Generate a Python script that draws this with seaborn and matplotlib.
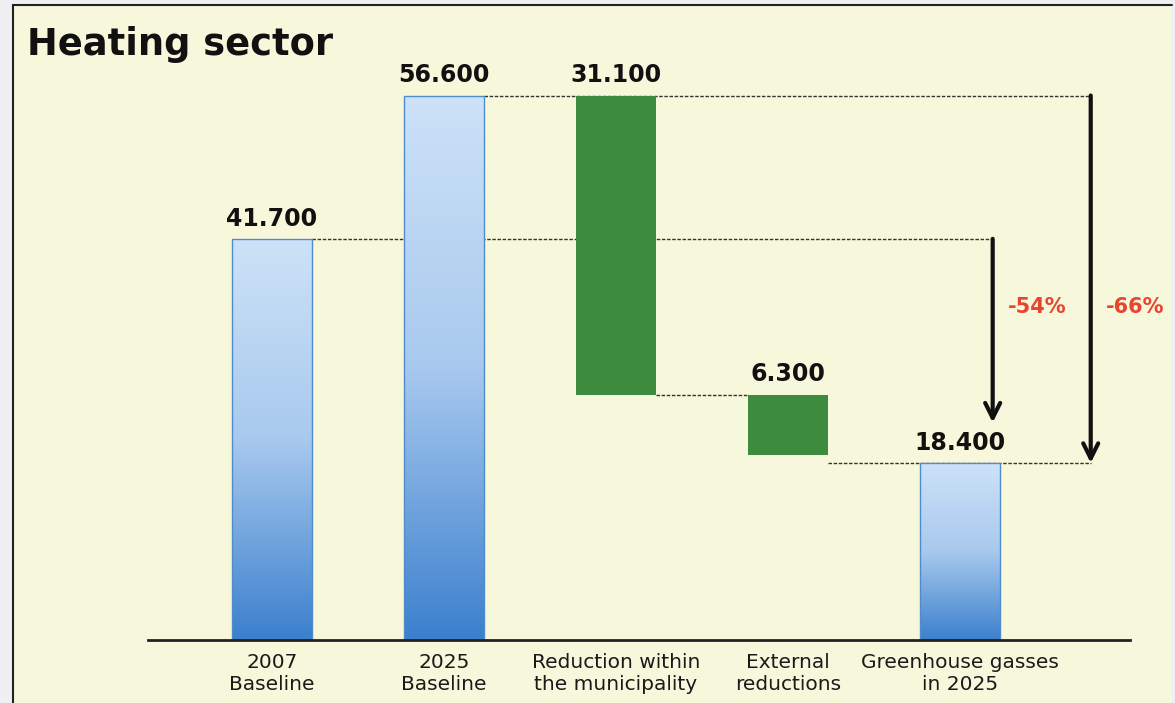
import matplotlib
matplotlib.use("Agg")
import matplotlib.pyplot as plt
import numpy as np
import pandas as pd
import seaborn as sns
from matplotlib.patches import Rectangle
from matplotlib.colors import LinearSegmentedColormap

# Heating-sector emissions, 2007 baseline to 2025
categories = ["2007\nBaseline", "2025\nBaseline", "Reduction within\nthe municipality",
              "External\nreductions", "Greenhouse gasses\nin 2025"]
values = [41.7, 56.6, 31.1, 6.3, 18.4]
kinds = ["total", "total", "reduction", "reduction", "total"]
pct_labels = ["-54%", "-66%"]

# Bar spans: totals start at zero, reductions hang from the running level
bottoms, spans = [], []
level = 0.0
for v, k in zip(values, kinds):
    if k == "total":
        bottoms.append(0.0)
        spans.append(v)
        level = v
    else:
        level -= v
        bottoms.append(level)
        spans.append(v)
tops = [b + s for b, s in zip(bottoms, spans)]

df = pd.DataFrame({"category": categories, "span": spans})

sns.set_theme(style="white")
plt.rcParams["font.family"] = ["DejaVu Sans"]

BG = "#f7f7dc"
GREEN = "#3d8c3d"
W = 0.46

fig = plt.figure(figsize=(11.75, 7.03), dpi=100)
fig.patch.set_facecolor("#eef0f4")
# framed panel
fig.patches.append(Rectangle((13 / 1175, 0), 1159 / 1175, 698 / 703,
                             transform=fig.transFigure, facecolor=BG,
                             edgecolor="none", zorder=-10))
fig.lines.append(plt.Line2D([13 / 1175, 1172 / 1175], [698 / 703, 698 / 703],
                            transform=fig.transFigure, color="#222222", lw=1.5, zorder=-9))
fig.lines.append(plt.Line2D([13 / 1175, 13 / 1175], [0, 698 / 703],
                            transform=fig.transFigure, color="#222222", lw=1.5, zorder=-9))

ax = fig.add_axes([0, 63 / 703, 1, 640 / 703])
ax.set_facecolor("none")

palette = {c: ("#ffffff00" if k == "total" else GREEN) for c, k in zip(categories, kinds)}
sns.barplot(data=df, x="category", y="span", hue="category", palette=palette,
            width=W, legend=False, ax=ax, zorder=3, saturation=1)

blue_cmap = LinearSegmentedColormap.from_list("bluegrad", ["#cde2f8", "#a8c9ee", "#3b80cd"])
grad = np.linspace(0, 1, 256).reshape(-1, 1)
for patch, b, k in zip(ax.patches, bottoms, kinds):
    patch.set_y(b)
    if k == "total":
        x0 = patch.get_x()
        w = patch.get_width()
        h = patch.get_height()
        im = ax.imshow(grad, cmap=blue_cmap, aspect="auto",
                       extent=[x0, x0 + w, b, b + h], origin="upper", zorder=3)
        im.set_clip_path(patch)
        patch.set_edgecolor("#4f8ccc")
        patch.set_linewidth(1.0)
        patch.set_zorder(4)
    else:
        patch.set_edgecolor("none")

ax.set_xlim(-272 / 172, (1175 - 272) / 172)
ax.set_ylim(0, 640 / 9.62)

# value labels
for i, (v, t) in enumerate(zip(values, tops)):
    ax.annotate(f"{v:.3f}", (i, t), xytext=(0, 6), textcoords="offset points",
                ha="center", va="bottom", fontsize=17, fontweight="bold",
                color="#111111", zorder=6)

# dotted connectors
arrow_x = [4.19, 4.76]
dot = dict(color="#333333", lw=1.0, linestyle=(0, (2.5, 1.2)), zorder=2)
ax.plot([0 + W / 2, arrow_x[0]], [values[0], values[0]], **dot)
ax.plot([1 + W / 2, arrow_x[1]], [values[1], values[1]], **dot)
ax.plot([2 + W / 2, 3 - W / 2], [bottoms[2], bottoms[2]], **dot)
ax.plot([3 + W / 2, arrow_x[1]], [values[4], values[4]], **dot)

# reduction arrows
arrow_style = dict(arrowstyle="->,head_length=0.9,head_width=0.45", lw=3,
                   color="#111111", shrinkA=0, shrinkB=0)
ax.annotate("", xy=(arrow_x[0], values[4] + 4.2), xytext=(arrow_x[0], values[0]),
            arrowprops=arrow_style, zorder=5)
ax.annotate("", xy=(arrow_x[1], values[4]), xytext=(arrow_x[1], values[1]),
            arrowprops=arrow_style, zorder=5)
for xp, lab in zip([4.45, 5.02], pct_labels):
    ax.text(xp, 34.6, lab, ha="center", va="center", fontsize=15,
            fontweight="bold", color="#e8452f", zorder=6)

# axis styling
ax.set_xticks(range(len(categories)))
ax.set_xticklabels(categories, fontsize=14.5, color="#1a1a1a", linespacing=1.25)
ax.tick_params(axis="x", length=0, pad=9)
ax.set_yticks([])
ax.set_xlabel("")
ax.set_ylabel("")
for s in ["top", "left", "right"]:
    ax.spines[s].set_visible(False)
ax.spines["bottom"].set_color("#222222")
ax.spines["bottom"].set_linewidth(2)
ax.spines["bottom"].set_bounds((148 - 272) / 172, (1130 - 272) / 172)
ax.spines["bottom"].set_zorder(7)

fig.text(27 / 1175, 1 - 55 / 703, "Heating sector", fontsize=26.5,
         fontweight="bold", color="#111111", va="baseline", ha="left")

fig.savefig("out.png", dpi=100, facecolor=fig.get_facecolor())
